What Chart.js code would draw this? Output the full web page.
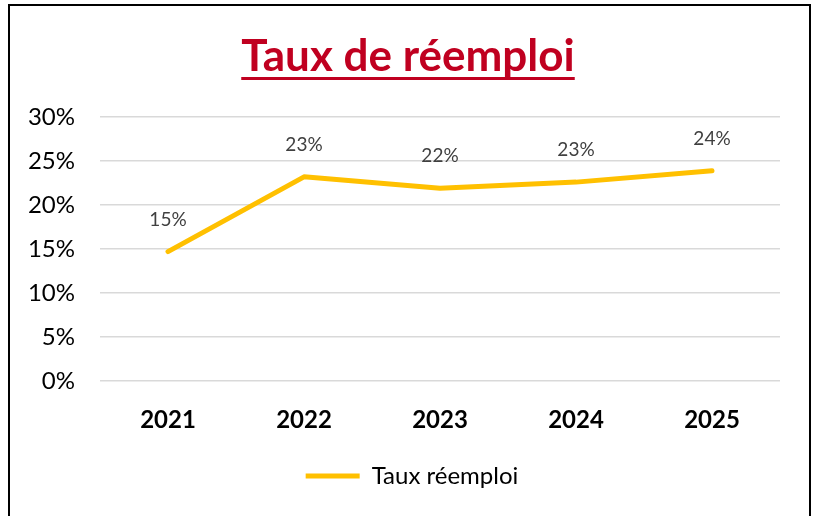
<!DOCTYPE html>
<html>
<head>
<meta charset="utf-8">
<script src="https://cdn.jsdelivr.net/npm/chart.js@4"></script>
<style>
  html, body { margin: 0; padding: 0; background: #fff; }
  #frame { position: absolute; left: 8px; top: 4px; width: 799px; height: 530px; border: 2px solid #000; }
  #wrap { position: absolute; left: 0; top: 0; width: 815px; height: 516px; }
</style>
</head>
<body>
<div id="frame"></div>
<div id="wrap"><canvas id="chart"></canvas></div>
<script>
// Taux de réemploi - line chart
const chartTitle = 'Taux de réemploi';
const years = ['2021', '2022', '2023', '2024', '2025'];
const tauxReemploi = [14.7, 23.2, 21.9, 22.6, 23.9];
const seriesName = 'Taux réemploi';
const yTicks = [0, 5, 10, 15, 20, 25, 30];

const yellow = '#FFC000';

// title with underline, drawn on the canvas
const titlePlugin = {
  id: 'underlinedTitle',
  afterDraw(chart) {
    const ctx = chart.ctx;
    ctx.save();
    ctx.font = 'bold 44px Lato';
    ctx.fillStyle = '#C00020';
    ctx.textAlign = 'center';
    ctx.textBaseline = 'alphabetic';
    const cx = 408;
    ctx.fillText(chartTitle, cx, 71);
    const w = ctx.measureText(chartTitle).width;
    ctx.fillRect(cx - w / 2, 77, w, 3);
    ctx.restore();
  }
};

// value labels above each point
const labelPlugin = {
  id: 'valueLabels',
  afterDatasetsDraw(chart) {
    const ctx = chart.ctx;
    const meta = chart.getDatasetMeta(0);
    ctx.save();
    ctx.font = '19px Lato';
    ctx.fillStyle = '#404040';
    ctx.textAlign = 'center';
    ctx.textBaseline = 'middle';
    meta.data.forEach(function(pt, i) {
      ctx.fillText(Math.round(tauxReemploi[i]) + '%', pt.x, pt.y - 32);
    });
    ctx.restore();
  }
};

// move the legend a little to the right, as in the original
const legendShift = {
  id: 'legendShift',
  afterLayout(chart) {
    chart.legend.left += 22;
    chart.legend.right += 22;
  }
};

new Chart(document.getElementById('chart'), {
  type: 'line',
  data: {
    labels: years,
    datasets: [{
      label: seriesName,
      data: tauxReemploi,
      borderColor: yellow,
      backgroundColor: yellow,
      borderWidth: 5,
      borderCapStyle: 'round',
      borderJoinStyle: 'round',
      pointRadius: 0,
      pointHoverRadius: 0,
      tension: 0
    }]
  },
  options: {
    responsive: true,
    maintainAspectRatio: false,
    animation: false,
    layout: { padding: { top: 117, right: 35, bottom: 18, left: 0 } },
    plugins: {
      title: { display: false },
      tooltip: { enabled: false },
      legend: {
        position: 'bottom',
        labels: {
          usePointStyle: true,
          pointStyle: 'line',
          pointStyleWidth: 54,
          color: '#000',
          font: { family: 'Lato', size: 24 },
          padding: 10
        }
      }
    },
    scales: {
      x: {
        offset: true,
        grid: { display: false, drawTicks: false, offset: true },
        border: { display: false },
        ticks: { color: '#000', font: { family: 'Lato', size: 24, weight: 'bold' }, padding: 25 },
        afterFit(scale) { scale.height = 73; }
      },
      y: {
        min: 0,
        max: 30,
        afterBuildTicks(scale) { scale.ticks = yTicks.map(v => ({ value: v })); },
        grid: { color: '#d9d9d9', lineWidth: 1.5, drawTicks: false },
        border: { display: false },
        ticks: {
          color: '#000',
          font: { family: 'Lato', size: 24 },
          padding: 25,
          callback: v => v + '%'
        },
        afterFit(scale) { scale.width = 100; }
      }
    }
  },
  plugins: [titlePlugin, labelPlugin, legendShift]
});
</script>
</body>
</html>
